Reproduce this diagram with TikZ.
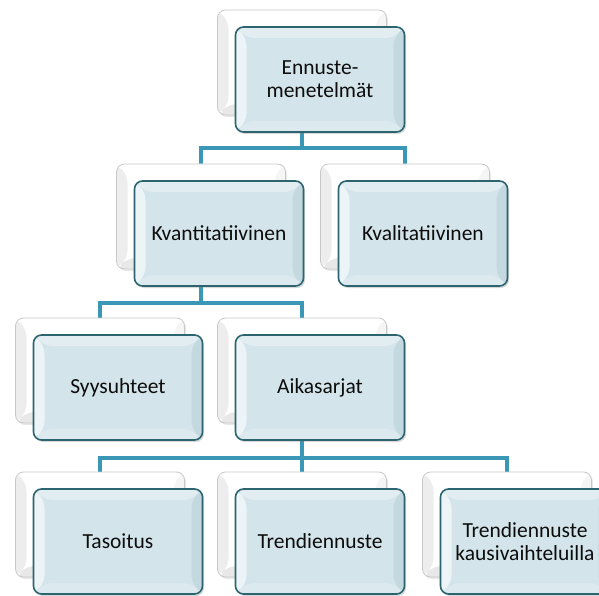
\documentclass[tikz,border=0pt]{standalone}
\usepackage{fontspec}
\setmainfont{Carlito}
\usetikzlibrary{shadows,backgrounds}

\definecolor{linkteal}{RGB}{58,152,182}
\definecolor{frontedge}{RGB}{44,100,112}
\definecolor{frontfill}{RGB}{211,228,234}
\definecolor{bevtop}{RGB}{226,237,241}
\definecolor{bevleft}{RGB}{236,244,247}
\definecolor{bevright}{RGB}{196,216,224}
\definecolor{bevbottom}{RGB}{220,234,239}
\definecolor{backedge}{RGB}{200,200,200}

\tikzset{
  % four shaded bands along the edges of a box (top, left, right, bottom)
  bevel/.style n args={4}{path picture={
    \def\bw{11pt}
    \fill[#1] (path picture bounding box.north west) -- (path picture bounding box.north east)
      -- ([shift={(-\bw,-\bw)}]path picture bounding box.north east)
      -- ([shift={(\bw,-\bw)}]path picture bounding box.north west) -- cycle;
    \fill[#2] (path picture bounding box.north west) -- (path picture bounding box.south west)
      -- ([shift={(\bw,\bw)}]path picture bounding box.south west)
      -- ([shift={(\bw,-\bw)}]path picture bounding box.north west) -- cycle;
    \fill[#3] (path picture bounding box.north east) -- (path picture bounding box.south east)
      -- ([shift={(-\bw,\bw)}]path picture bounding box.south east)
      -- ([shift={(-\bw,-\bw)}]path picture bounding box.north east) -- cycle;
    \fill[#4] (path picture bounding box.south west) -- (path picture bounding box.south east)
      -- ([shift={(-\bw,\bw)}]path picture bounding box.south east)
      -- ([shift={(\bw,\bw)}]path picture bounding box.south west) -- cycle;
  }},
  boxshape/.style={rectangle, rounded corners=8pt, minimum width=169pt,
    minimum height=105pt, inner sep=0pt},
  backbox/.style={boxshape, draw=backedge, line width=0.8pt, fill=white,
    drop shadow={shadow xshift=1.5pt, shadow yshift=-2pt, opacity=0.18},
    bevel={white}{black!7}{black!4}{black!9}},
  frontbox/.style={boxshape, draw=frontedge, line width=1.6pt, fill=frontfill,
    drop shadow={shadow xshift=1.5pt, shadow yshift=-2pt, opacity=0.3},
    bevel={bevtop}{bevleft}{bevright}{bevbottom},
    align=center, text=black!95, font=\fontsize{21.5}{23}\selectfont},
  link/.style={draw=linkteal, line width=3.6pt}
}

\begin{document}
\begin{tikzpicture}[x=1pt,y=1pt]
\path[use as bounding box] (0,0) rectangle (599,-596);
\clip (0,0) rectangle (599,-596);

% level 0
\node[backbox] (b0) at (302,-62.5) {};
\node[frontbox] (n0) at (320,-79.5) {Ennuste-\\menetelmät};

% level 1
\node[backbox] (b1a) at (201,-216.5) {};
\node[frontbox] (n1a) at (219,-233.5) {Kvantitatiivinen};
\node[backbox] (b1b) at (405,-216.5) {};
\node[frontbox] (n1b) at (423,-233.5) {Kvalitatiivinen};

% level 2
\node[backbox] (b2a) at (100,-370.5) {};
\node[frontbox] (n2a) at (118,-387.5) {Syysuhteet};
\node[backbox] (b2b) at (302,-370.5) {};
\node[frontbox] (n2b) at (320,-387.5) {Aikasarjat};

% level 3
\node[backbox] (b3a) at (100,-524.5) {};
\node[frontbox] (n3a) at (118,-541.5) {Tasoitus};
\node[backbox] (b3b) at (302,-524.5) {};
\node[frontbox] (n3b) at (320,-541.5) {Trendiennuste};
\node[backbox] (b3c) at (507,-524.5) {};
\node[frontbox] (n3c) at (525,-541.5) {Trendiennuste\\kausivaihteluilla};

% junctions on the horizontal buses
\coordinate (j0) at (302,-148);
\coordinate (j1) at (201,-303);
\coordinate (j2) at (302,-458);

% tree connectors, drawn beneath the boxes
\begin{scope}[on background layer]
  \draw[link] (b0.center) -- (j0) -| (b1a.north);
  \draw[link] (j0) -| (b1b.north);
  \draw[link] (b1a.center) -- (j1) -| (b2a.north);
  \draw[link] (j1) -| (b2b.north);
  \draw[link] (b2b.center) -- (j2) -| (b3a.north);
  \draw[link] (j2) -| (b3b.north);
  \draw[link] (j2) -| (b3c.north);
\end{scope}
\end{tikzpicture}
\end{document}
